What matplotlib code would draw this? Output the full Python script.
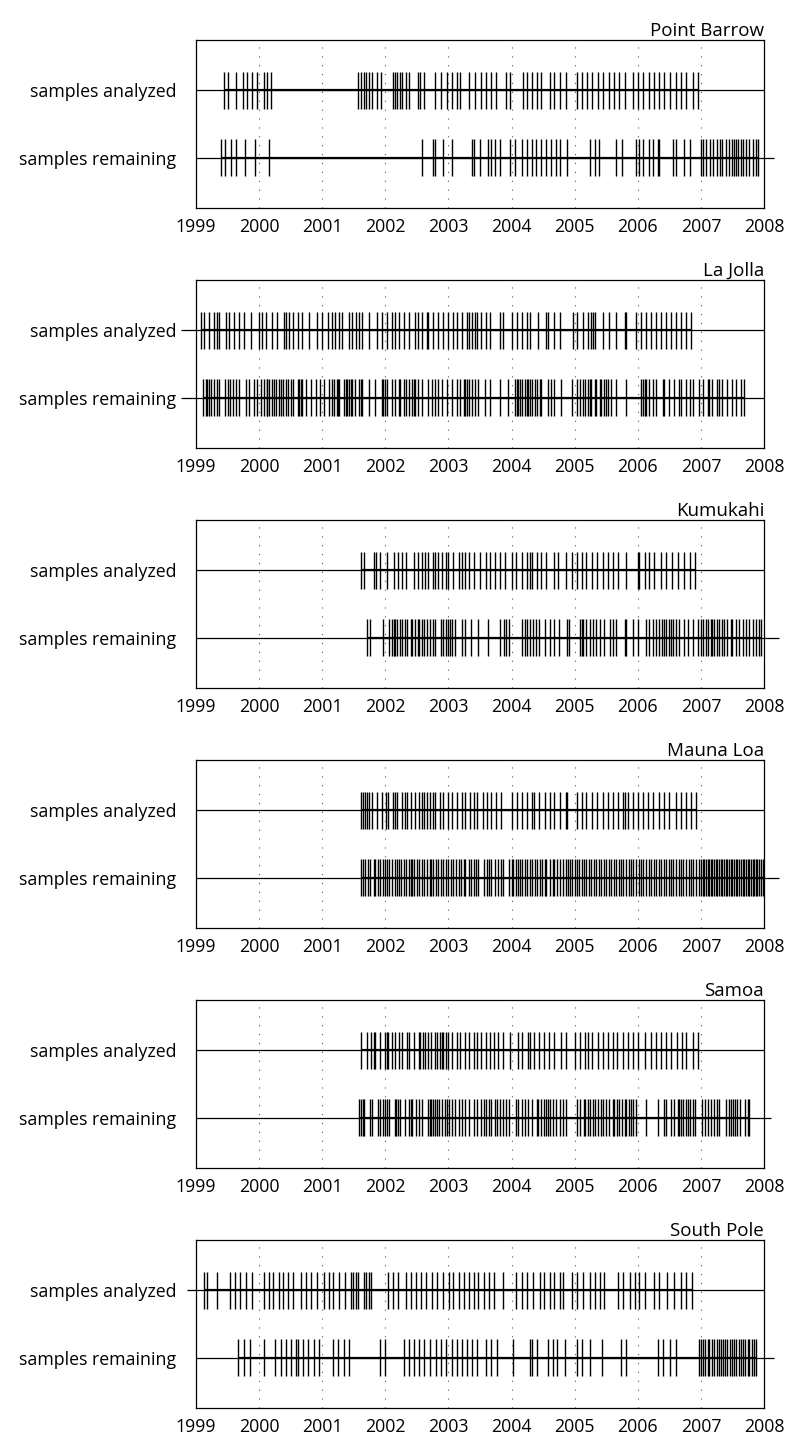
import matplotlib.pyplot as plt

# sample dates (decimal years)
barrow_analyzed = [
    1999.45, 1999.51, 1999.63, 1999.74, 1999.81, 1999.88, 1999.96, 2000.08, 2000.12, 2000.19,
    2001.57, 2001.62, 2001.66, 2001.70, 2001.74, 2001.79, 2001.87, 2001.93, 2002.12, 2002.16,
    2002.19, 2002.23, 2002.27, 2002.32, 2002.38, 2002.52, 2002.55, 2002.61, 2002.79, 2002.88,
    2002.97, 2003.05, 2003.13, 2003.19, 2003.33, 2003.42, 2003.52, 2003.60, 2003.67, 2003.76,
    2003.91, 2003.97, 2004.18, 2004.25, 2004.33, 2004.41, 2004.47, 2004.61, 2004.68, 2004.76,
    2004.86, 2005.03, 2005.11, 2005.19, 2005.28, 2005.37, 2005.45, 2005.54, 2005.63, 2005.71,
    2005.80, 2005.93, 2006.00, 2006.08, 2006.18, 2006.26, 2006.34, 2006.42, 2006.51, 2006.61,
    2006.68, 2006.77, 2006.87, 2006.95]
barrow_remaining = [
    1999.39, 1999.46, 1999.55, 1999.63, 1999.78, 1999.94, 2000.15,
    2002.58, 2002.75, 2002.79, 2002.91, 2003.05, 2003.37, 2003.41, 2003.50, 2003.63, 2003.68,
    2003.74, 2003.81, 2003.97, 2004.05, 2004.16, 2004.24, 2004.32, 2004.39, 2004.47, 2004.55,
    2004.63, 2004.71, 2004.76, 2004.88, 2005.24, 2005.32, 2005.39, 2005.65, 2005.75, 2005.97,
    2006.02, 2006.08, 2006.18, 2006.24, 2006.32, 2006.34, 2006.56, 2006.61, 2006.73, 2006.82,
    2007.00, 2007.04, 2007.08, 2007.14, 2007.19, 2007.26, 2007.30, 2007.34, 2007.39, 2007.44,
    2007.50, 2007.53, 2007.56, 2007.59, 2007.63, 2007.66, 2007.71, 2007.76, 2007.82, 2007.87,
    2007.91]

lajolla_analyzed = [
    1999.08, 1999.13, 1999.21, 1999.29, 1999.33, 1999.37, 1999.47, 1999.53, 1999.61, 1999.68,
    1999.76, 1999.87, 2000.00, 2000.04, 2000.11, 2000.21, 2000.29, 2000.39, 2000.42, 2000.47,
    2000.53, 2000.61, 2000.68, 2000.79, 2000.92, 2001.00, 2001.09, 2001.16, 2001.20, 2001.26,
    2001.32, 2001.42, 2001.47, 2001.53, 2001.58, 2001.63, 2001.74, 2001.87, 2001.95, 2002.03,
    2002.11, 2002.16, 2002.21, 2002.29, 2002.37, 2002.47, 2002.52, 2002.58, 2002.66, 2002.68,
    2002.76, 2002.84, 2002.92, 2003.00, 2003.08, 2003.13, 2003.21, 2003.29, 2003.32, 2003.37,
    2003.42, 2003.45, 2003.52, 2003.59, 2003.66, 2003.82, 2003.87, 2004.00, 2004.08, 2004.16,
    2004.24, 2004.29, 2004.42, 2004.55, 2004.58, 2004.68, 2004.76, 2004.97, 2005.03, 2005.13,
    2005.21, 2005.26, 2005.29, 2005.32, 2005.45, 2005.55, 2005.66, 2005.79, 2005.82, 2005.97,
    2006.05, 2006.13, 2006.21, 2006.29, 2006.37, 2006.45, 2006.53, 2006.61, 2006.68, 2006.76,
    2006.84]
lajolla_remaining = [
    1999.11, 1999.16, 1999.18, 1999.21, 1999.24, 1999.29, 1999.33, 1999.36, 1999.46, 1999.50,
    1999.54, 1999.58, 1999.63, 1999.68, 1999.79, 1999.84, 1999.92, 1999.97, 2000.03, 2000.08,
    2000.12, 2000.13, 2000.15, 2000.21, 2000.24, 2000.26, 2000.31, 2000.34, 2000.38, 2000.42,
    2000.46, 2000.50, 2000.53, 2000.61, 2000.63, 2000.66, 2000.68, 2000.74, 2000.82, 2000.90,
    2000.97, 2001.03, 2001.11, 2001.15, 2001.18, 2001.24, 2001.25, 2001.27, 2001.34, 2001.37,
    2001.40, 2001.42, 2001.45, 2001.47, 2001.52, 2001.58, 2001.61, 2001.63, 2001.74, 2001.84,
    2001.95, 2001.97, 2002.00, 2002.03, 2002.11, 2002.16, 2002.21, 2002.24, 2002.29, 2002.32,
    2002.37, 2002.42, 2002.45, 2002.47, 2002.52, 2002.58, 2002.68, 2002.74, 2002.79, 2002.84,
    2002.90, 2002.97, 2003.05, 2003.13, 2003.18, 2003.24, 2003.26, 2003.29, 2003.32, 2003.37,
    2003.42, 2003.47, 2003.58, 2003.66, 2003.82, 2003.95, 2004.05, 2004.08, 2004.11, 2004.13,
    2004.17, 2004.21, 2004.24, 2004.26, 2004.29, 2004.33, 2004.37, 2004.41, 2004.45, 2004.47,
    2004.58, 2004.63, 2004.68, 2004.79, 2004.95, 2005.03, 2005.08, 2005.13, 2005.17, 2005.21,
    2005.24, 2005.26, 2005.32, 2005.34, 2005.40, 2005.42, 2005.47, 2005.50, 2005.53, 2005.58,
    2005.66, 2005.82, 2006.05, 2006.08, 2006.11, 2006.13, 2006.18, 2006.24, 2006.29, 2006.40,
    2006.42, 2006.50, 2006.58, 2006.65, 2006.68, 2006.76, 2006.82, 2006.87, 2006.97, 2007.03,
    2007.11, 2007.13, 2007.18, 2007.25, 2007.29, 2007.34, 2007.42, 2007.50, 2007.55, 2007.63,
    2007.68]

kumukahi_analyzed = [
    2001.61, 2001.66, 2001.82, 2001.85, 2001.91, 2002.03, 2002.13, 2002.20, 2002.27, 2002.32,
    2002.45, 2002.52, 2002.58, 2002.63, 2002.68, 2002.75, 2002.79, 2002.84, 2002.90, 2002.96,
    2003.00, 2003.08, 2003.16, 2003.21, 2003.27, 2003.33, 2003.41, 2003.50, 2003.60, 2003.66,
    2003.74, 2003.82, 2003.90, 2004.00, 2004.07, 2004.16, 2004.24, 2004.29, 2004.33, 2004.40,
    2004.47, 2004.55, 2004.68, 2004.74, 2004.87, 2004.95, 2005.03, 2005.11, 2005.18, 2005.28,
    2005.36, 2005.45, 2005.53, 2005.61, 2005.68, 2005.82, 2006.00, 2006.02, 2006.11, 2006.18,
    2006.26, 2006.37, 2006.45, 2006.54, 2006.63, 2006.74, 2006.82, 2006.91]
kumukahi_remaining = [
    2001.71, 2001.76, 2001.96, 2002.06, 2002.10, 2002.13, 2002.16, 2002.18, 2002.24, 2002.26,
    2002.31, 2002.34, 2002.40, 2002.43, 2002.47, 2002.52, 2002.54, 2002.58, 2002.62, 2002.66,
    2002.71, 2002.75, 2002.79, 2002.88, 2002.92, 2002.96, 2003.00, 2003.03, 2003.05, 2003.11,
    2003.21, 2003.27, 2003.36, 2003.47, 2003.63, 2003.82, 2003.88, 2003.91, 2003.96, 2004.17,
    2004.21, 2004.25, 2004.29, 2004.34, 2004.38, 2004.44, 2004.53, 2004.61, 2004.68, 2004.75,
    2004.88, 2004.91, 2005.08, 2005.11, 2005.13, 2005.18, 2005.24, 2005.29, 2005.34, 2005.40,
    2005.47, 2005.56, 2005.61, 2005.65, 2005.79, 2005.82, 2005.92, 2006.00, 2006.13, 2006.18,
    2006.24, 2006.29, 2006.34, 2006.38, 2006.42, 2006.45, 2006.49, 2006.53, 2006.56, 2006.61,
    2006.66, 2006.74, 2006.79, 2006.87, 2006.95, 2007.00, 2007.04, 2007.08, 2007.12, 2007.16,
    2007.18, 2007.21, 2007.25, 2007.29, 2007.33, 2007.37, 2007.42, 2007.47, 2007.50, 2007.55,
    2007.61, 2007.66, 2007.71, 2007.76, 2007.82, 2007.87, 2007.92, 2007.95]

maunaloa_analyzed = [
    2001.62, 2001.65, 2001.67, 2001.71, 2001.74, 2001.79, 2001.87, 2001.95, 2002.01, 2002.04,
    2002.12, 2002.16, 2002.18, 2002.26, 2002.31, 2002.34, 2002.40, 2002.47, 2002.53, 2002.58,
    2002.62, 2002.66, 2002.71, 2002.76, 2002.79, 2002.87, 2002.92, 2003.00, 2003.05, 2003.13,
    2003.21, 2003.27, 2003.34, 2003.40, 2003.45, 2003.54, 2003.61, 2003.68, 2003.75, 2003.83,
    2004.00, 2004.08, 2004.16, 2004.24, 2004.32, 2004.35, 2004.44, 2004.53, 2004.61, 2004.68,
    2004.76, 2004.86, 2004.88, 2005.03, 2005.11, 2005.18, 2005.28, 2005.36, 2005.45, 2005.53,
    2005.61, 2005.68, 2005.76, 2005.79, 2005.84, 2005.92, 2006.00, 2006.08, 2006.16, 2006.24,
    2006.33, 2006.42, 2006.50, 2006.61, 2006.68, 2006.76, 2006.84, 2006.92]
maunaloa_remaining = [
    2001.61, 2001.64, 2001.68, 2001.73, 2001.76, 2001.82, 2001.84, 2001.88, 2001.92, 2001.96,
    2001.99, 2002.03, 2002.06, 2002.11, 2002.15, 2002.18, 2002.22, 2002.25, 2002.29, 2002.33,
    2002.37, 2002.40, 2002.42, 2002.46, 2002.50, 2002.54, 2002.58, 2002.62, 2002.66, 2002.70,
    2002.73, 2002.76, 2002.80, 2002.84, 2002.88, 2002.92, 2002.96, 2003.00, 2003.04, 2003.08,
    2003.12, 2003.16, 2003.20, 2003.24, 2003.27, 2003.32, 2003.36, 2003.40, 2003.43, 2003.47,
    2003.56, 2003.61, 2003.65, 2003.68, 2003.74, 2003.79, 2003.84, 2003.87, 2003.96, 2004.00,
    2004.03, 2004.07, 2004.11, 2004.14, 2004.17, 2004.21, 2004.25, 2004.29, 2004.33, 2004.37,
    2004.41, 2004.45, 2004.49, 2004.53, 2004.55, 2004.61, 2004.65, 2004.68, 2004.72, 2004.76,
    2004.82, 2004.86, 2004.90, 2004.92, 2004.96, 2005.00, 2005.03, 2005.07, 2005.11, 2005.14,
    2005.18, 2005.23, 2005.26, 2005.30, 2005.34, 2005.38, 2005.42, 2005.46, 2005.50, 2005.54,
    2005.58, 2005.62, 2005.66, 2005.70, 2005.74, 2005.77, 2005.82, 2005.86, 2005.90, 2005.93,
    2005.97, 2006.02, 2006.05, 2006.09, 2006.13, 2006.17, 2006.21, 2006.25, 2006.29, 2006.33,
    2006.37, 2006.41, 2006.45, 2006.49, 2006.53, 2006.56, 2006.61, 2006.65, 2006.68, 2006.72,
    2006.76, 2006.81, 2006.84, 2006.88, 2006.92, 2006.97, 2007.00, 2007.03, 2007.05, 2007.08,
    2007.11, 2007.13, 2007.16, 2007.18, 2007.21, 2007.24, 2007.26, 2007.29, 2007.32, 2007.34,
    2007.37, 2007.39, 2007.42, 2007.45, 2007.47, 2007.50, 2007.53, 2007.55, 2007.58, 2007.61,
    2007.63, 2007.66, 2007.68, 2007.71, 2007.74, 2007.76, 2007.79, 2007.82, 2007.84, 2007.87,
    2007.89, 2007.92, 2007.95, 2007.98]

samoa_analyzed = [
    2001.61, 2001.71, 2001.78, 2001.82, 2001.84, 2001.92, 2002.00, 2002.03, 2002.05, 2002.11,
    2002.15, 2002.21, 2002.26, 2002.34, 2002.37, 2002.45, 2002.53, 2002.55, 2002.59, 2002.63,
    2002.68, 2002.73, 2002.78, 2002.82, 2002.87, 2002.90, 2002.92, 2002.96, 2003.00, 2003.05,
    2003.13, 2003.18, 2003.26, 2003.32, 2003.40, 2003.45, 2003.52, 2003.60, 2003.66, 2003.72,
    2003.79, 2003.87, 2003.97, 2004.11, 2004.17, 2004.26, 2004.30, 2004.35, 2004.44, 2004.51,
    2004.60, 2004.67, 2004.79, 2004.86, 2005.00, 2005.08, 2005.16, 2005.21, 2005.28, 2005.37,
    2005.45, 2005.53, 2005.60, 2005.67, 2005.76, 2005.84, 2005.92, 2006.00, 2006.11, 2006.21,
    2006.29, 2006.37, 2006.45, 2006.53, 2006.62, 2006.70, 2006.77, 2006.87, 2006.96]
samoa_remaining = [
    2001.58, 2001.61, 2001.64, 2001.66, 2001.75, 2001.79, 2001.89, 2001.92, 2001.96, 2002.00,
    2002.03, 2002.06, 2002.15, 2002.17, 2002.20, 2002.24, 2002.31, 2002.37, 2002.40, 2002.43,
    2002.48, 2002.54, 2002.58, 2002.67, 2002.70, 2002.73, 2002.75, 2002.78, 2002.82, 2002.85,
    2002.90, 2002.94, 2002.97, 2003.01, 2003.05, 2003.11, 2003.17, 2003.21, 2003.26, 2003.32,
    2003.40, 2003.46, 2003.52, 2003.56, 2003.60, 2003.65, 2003.68, 2003.74, 2003.77, 2003.82,
    2003.86, 2003.91, 2003.96, 2004.07, 2004.11, 2004.16, 2004.21, 2004.26, 2004.32, 2004.40,
    2004.42, 2004.46, 2004.51, 2004.54, 2004.58, 2004.61, 2004.66, 2004.71, 2004.76, 2004.82,
    2004.86, 2005.03, 2005.08, 2005.14, 2005.17, 2005.21, 2005.25, 2005.29, 2005.33, 2005.37,
    2005.41, 2005.45, 2005.50, 2005.55, 2005.60, 2005.63, 2005.67, 2005.71, 2005.75, 2005.79,
    2005.82, 2005.86, 2005.89, 2005.93, 2005.97, 2006.13, 2006.32, 2006.42, 2006.45, 2006.53,
    2006.58, 2006.63, 2006.66, 2006.68, 2006.72, 2006.76, 2006.79, 2006.83, 2006.87, 2006.91,
    2007.02, 2007.07, 2007.11, 2007.16, 2007.21, 2007.25, 2007.29, 2007.40, 2007.44, 2007.47,
    2007.51, 2007.54, 2007.58, 2007.62, 2007.70, 2007.74, 2007.77]

southpole_analyzed = [
    1999.13, 1999.17, 1999.33, 1999.54, 1999.62, 1999.70, 1999.79, 1999.88, 2000.07, 2000.15,
    2000.22, 2000.31, 2000.38, 2000.46, 2000.54, 2000.67, 2000.75, 2000.83, 2000.92, 2001.03,
    2001.10, 2001.17, 2001.27, 2001.36, 2001.45, 2001.48, 2001.53, 2001.57, 2001.66, 2001.70,
    2001.74, 2001.78, 2002.04, 2002.12, 2002.20, 2002.33, 2002.41, 2002.48, 2002.57, 2002.64,
    2002.74, 2002.82, 2002.91, 2003.01, 2003.08, 2003.16, 2003.24, 2003.32, 2003.40, 2003.47,
    2003.56, 2003.65, 2003.72, 2003.86, 2004.07, 2004.16, 2004.24, 2004.34, 2004.45, 2004.51,
    2004.61, 2004.68, 2004.76, 2004.82, 2004.96, 2005.03, 2005.13, 2005.24, 2005.32, 2005.40,
    2005.47, 2005.68, 2005.77, 2005.87, 2005.95, 2006.02, 2006.11, 2006.26, 2006.34, 2006.47,
    2006.58, 2006.68, 2006.77, 2006.86]
southpole_remaining = [
    1999.67, 1999.76, 1999.85, 2000.08, 2000.25, 2000.34, 2000.42, 2000.50, 2000.58, 2000.62,
    2000.70, 2000.78, 2000.87, 2000.95, 2001.17, 2001.25, 2001.34, 2001.42, 2001.91, 2001.99,
    2002.29, 2002.38, 2002.46, 2002.54, 2002.62, 2002.71, 2002.80, 2002.88, 2002.96, 2003.05,
    2003.13, 2003.21, 2003.29, 2003.38, 2003.46, 2003.60, 2003.68, 2003.77, 2004.03, 2004.29,
    2004.33, 2004.41, 2004.58, 2004.65, 2004.72, 2004.84, 2005.03, 2005.11, 2005.24, 2005.44,
    2005.74, 2005.82, 2006.32, 2006.40, 2006.51, 2006.61, 2006.97, 2007.00, 2007.04, 2007.07,
    2007.11, 2007.13, 2007.17, 2007.21, 2007.25, 2007.28, 2007.32, 2007.35, 2007.38, 2007.42,
    2007.46, 2007.49, 2007.53, 2007.56, 2007.60, 2007.63, 2007.67, 2007.70, 2007.74, 2007.77,
    2007.81, 2007.84, 2007.88]

sites = ['Point Barrow', 'La Jolla', 'Kumukahi', 'Mauna Loa', 'Samoa', 'South Pole']
analyzed = [barrow_analyzed, lajolla_analyzed, kumukahi_analyzed,
            maunaloa_analyzed, samoa_analyzed, southpole_analyzed]
remaining = [barrow_remaining, lajolla_remaining, kumukahi_remaining,
             maunaloa_remaining, samoa_remaining, southpole_remaining]
# where the baseline of each row starts / stops (it runs past the box in places)
analyzed_span = [(1999, 2008), (1998.76, 2008), (1999, 2008),
                 (1999, 2008), (1999, 2008), (1998.86, 2008)]
remaining_span = [(1999, 2008.16), (1998.76, 2008), (1999, 2008.24),
                  (1999, 2008.24), (1999, 2008.11), (1999, 2008.16)]
years = list(range(1999, 2009))
row_labels = ['samples remaining', 'samples analyzed']

plt.rcParams['font.family'] = ['Open Sans', 'DejaVu Sans']

W, H = 786, 1437
fig = plt.figure(figsize=(W / 100, H / 100), dpi=100)

left, right = 196, 764
for i, site in enumerate(sites):
    top = 40 + 240 * i
    bottom = 208 + 240 * i
    ax = fig.add_axes([left / W, 1 - bottom / H, (right - left) / W, (bottom - top) / H])
    ax.set_xlim(1999, 2008)
    ax.set_ylim(-0.75, 1.75)

    for yr in years[1:-1]:
        ax.axvline(yr, color='#555555', lw=0.8, ls=(0, (1, 7)), zorder=0)

    rows = [(0, remaining[i], remaining_span[i]), (1, analyzed[i], analyzed_span[i])]
    for y, dates, span in rows:
        ax.plot(span, [y, y], color='black', lw=0.9, clip_on=False, solid_capstyle='butt')
        ax.plot([dates[0], dates[-1]], [y, y], color='black', lw=1.6, solid_capstyle='butt')
        ax.vlines(dates, y - 0.28, y + 0.28, color='black', lw=1.0)

    ax.set_yticks([0, 1])
    ax.set_yticklabels(row_labels, fontsize=12.8)
    ax.set_xticks(years)
    ax.set_xticklabels([str(y) for y in years], fontsize=12.8)
    ax.tick_params(axis='both', length=0)
    ax.tick_params(axis='y', pad=14)
    ax.tick_params(axis='x', pad=7)
    for s in ax.spines.values():
        s.set_linewidth(0.9)
    ax.set_title(site, loc='right', fontsize=13.5, pad=2)

fig.savefig('out.png', dpi=100)
